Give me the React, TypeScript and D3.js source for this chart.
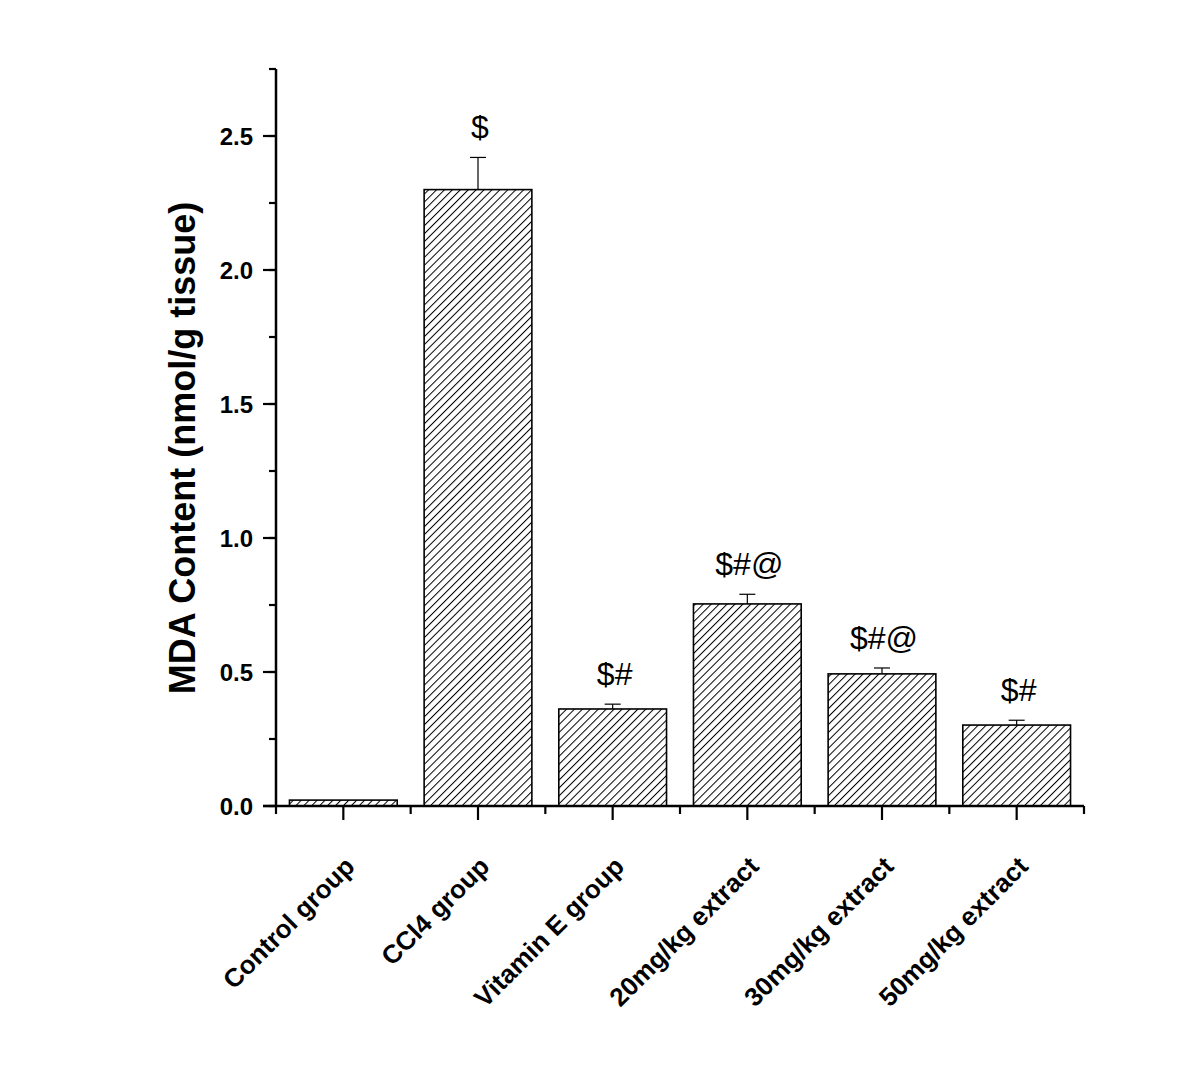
import { useRef, useEffect } from "react";
import * as d3 from "d3";

const groups = [
  "Control group",
  "CCl4 group",
  "Vitamin E group",
  "20mg/kg extract",
  "30mg/kg extract",
  "50mg/kg extract",
];
const means = [0.022, 2.3, 0.362, 0.754, 0.493, 0.302];
const errors = [0, 0.12, 0.018, 0.036, 0.022, 0.018];
const marks = ["", "$", "$#", "$#@", "$#@", "$#"];
const yTicks = [0, 0.5, 1.0, 1.5, 2.0, 2.5];

const width = 1200;
const height = 1092;
const margin = { top: 69, right: 116, bottom: 286, left: 276 };
const font = "'Liberation Sans', Arial, Helvetica, sans-serif";

const App = () => {
  const svgRef = useRef<SVGSVGElement>(null);

  useEffect(() => {
    const svg = d3.select(svgRef.current);
    svg.selectAll("*").remove();

    const x = d3
      .scaleBand()
      .domain(groups)
      .range([margin.left, width - margin.right])
      .paddingInner(0.2)
      .paddingOuter(0.1);
    // full-width slots for ticks
    const slot = d3
      .scaleBand()
      .domain(groups)
      .range([margin.left, width - margin.right]);

    const y = d3
      .scaleLinear()
      .domain([0, 2.75])
      .range([height - margin.bottom, margin.top]);

    // hatch pattern
    const defs = svg.append("defs");
    const pat = defs
      .append("pattern")
      .attr("id", "hatch")
      .attr("patternUnits", "userSpaceOnUse")
      .attr("width", 5.6)
      .attr("height", 10)
      .attr("patternTransform", "rotate(45)");
    pat.append("rect").attr("width", 5.6).attr("height", 10).attr("fill", "#fff");
    pat
      .append("line")
      .attr("x1", 0.5)
      .attr("x2", 0.5)
      .attr("y1", 0)
      .attr("y2", 10)
      .attr("stroke", "#000")
      .attr("stroke-width", 1);

    // bars
    svg
      .append("g")
      .selectAll("rect")
      .data(means)
      .join("rect")
      .attr("x", (_, i) => x(groups[i])!)
      .attr("y", (d) => y(d))
      .attr("width", x.bandwidth())
      .attr("height", (d) => y(0) - y(d))
      .attr("fill", "url(#hatch)")
      .attr("stroke", "#000")
      .attr("stroke-width", 1.6);

    // error bars (upper only)
    const eb = svg.append("g").attr("stroke", "#000").attr("stroke-width", 1.2);
    means.forEach((m, i) => {
      if (!errors[i]) return;
      const cx = x(groups[i])! + x.bandwidth() / 2;
      eb.append("line").attr("x1", cx).attr("x2", cx).attr("y1", y(m)).attr("y2", y(m + errors[i]));
      eb.append("line")
        .attr("x1", cx - 8)
        .attr("x2", cx + 8)
        .attr("y1", y(m + errors[i]))
        .attr("y2", y(m + errors[i]));
    });

    // significance marks
    svg
      .append("g")
      .selectAll("text")
      .data(marks)
      .join("text")
      .attr("x", (_, i) => x(groups[i])! + x.bandwidth() / 2 + 2)
      .attr("y", (_, i) => y(means[i] + errors[i]) - 19)
      .attr("text-anchor", "middle")
      .attr("font-family", font)
      .attr("font-size", 32)
      .text((d) => d);

    // y axis
    const yMinor = d3.range(0, 2.76, 0.25);
    const yAxis = svg.append("g").attr("transform", `translate(${margin.left},0)`);
    yAxis
      .append("line")
      .attr("y1", y(0))
      .attr("y2", y(2.75))
      .attr("stroke", "#000")
      .attr("stroke-width", 2.5);
    yAxis
      .selectAll(".minor")
      .data(yMinor)
      .join("line")
      .attr("x1", 0)
      .attr("x2", -7)
      .attr("y1", (d) => y(d))
      .attr("y2", (d) => y(d))
      .attr("stroke", "#000")
      .attr("stroke-width", 2.2);
    yAxis
      .selectAll(".major")
      .data(yTicks)
      .join("line")
      .attr("x1", 0)
      .attr("x2", -13)
      .attr("y1", (d) => y(d))
      .attr("y2", (d) => y(d))
      .attr("stroke", "#000")
      .attr("stroke-width", 2.2);
    yAxis
      .selectAll("text")
      .data(yTicks)
      .join("text")
      .attr("x", -23)
      .attr("y", (d) => y(d))
      .attr("dy", "0.36em")
      .attr("text-anchor", "end")
      .attr("font-family", font)
      .attr("font-weight", "bold")
      .attr("font-size", 24)
      .text((d) => d.toFixed(1));

    // x axis
    const x0 = height - margin.bottom;
    const xAxis = svg.append("g");
    xAxis
      .append("line")
      .attr("x1", margin.left - 13)
      .attr("x2", width - margin.right)
      .attr("y1", x0)
      .attr("y2", x0)
      .attr("stroke", "#000")
      .attr("stroke-width", 2.5);
    const edges = groups.map((g) => slot(g)!).concat([width - margin.right]);
    xAxis
      .selectAll(".minor")
      .data(edges)
      .join("line")
      .attr("x1", (d) => d)
      .attr("x2", (d) => d)
      .attr("y1", x0)
      .attr("y2", x0 + 8)
      .attr("stroke", "#000")
      .attr("stroke-width", 2.2);
    xAxis
      .selectAll(".major")
      .data(groups)
      .join("line")
      .attr("x1", (d) => slot(d)! + slot.bandwidth() / 2)
      .attr("x2", (d) => slot(d)! + slot.bandwidth() / 2)
      .attr("y1", x0)
      .attr("y2", x0 + 14)
      .attr("stroke", "#000")
      .attr("stroke-width", 2.2);
    xAxis
      .selectAll("text")
      .data(groups)
      .join("text")
      .attr("transform", (d) => `translate(${slot(d)! + slot.bandwidth() / 2 + 13},${x0 + 62}) rotate(-45)`)
      .attr("text-anchor", "end")
      .attr("font-family", font)
      .attr("font-weight", "bold")
      .attr("font-size", 26)
      .text((d) => d);

    // y title
    svg
      .append("text")
      .attr("transform", `translate(195,448) rotate(-90)`)
      .attr("text-anchor", "middle")
      .attr("font-family", font)
      .attr("font-weight", "bold")
      .attr("font-size", 36)
      .text("MDA Content (nmol/g tissue)");
  }, []);

  return (
    <svg
      ref={svgRef}
      width={width}
      height={height}
      style={{ position: "absolute", left: 0, top: 0, background: "#fff" }}
    />
  );
};

export default App;
